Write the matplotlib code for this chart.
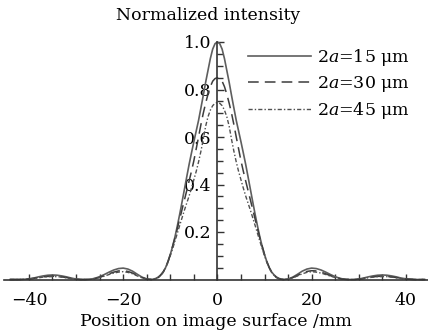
import matplotlib
matplotlib.use("Agg")
import matplotlib.pyplot as plt
import numpy as np

# Positions on image surface (mm): side lobes at 1 mm steps, main lobe at 0.5 mm steps
x_pos = [-44, -43, -42, -41, -40, -39, -38, -37, -36, -35, -34, -33, -32, -31, -30,
         -29, -28, -27, -26, -25, -24, -23, -22, -21, -20, -19, -18, -17, -16, -15,
         -14, -13.5, -13, -12.5, -12, -11.5, -11, -10.5, -10, -9.5, -9, -8.5, -8, -7.5,
         -7, -6.5, -6, -5.5, -5, -4.5, -4, -3.5, -3, -2.5, -2, -1.5, -1, -0.5, 0,
         0.5, 1, 1.5, 2, 2.5, 3, 3.5, 4, 4.5, 5, 5.5, 6, 6.5, 7,
         7.5, 8, 8.5, 9, 9.5, 10, 10.5, 11, 11.5, 12, 12.5, 13, 13.5, 14,
         15, 16, 17, 18, 19, 20, 21, 22, 23, 24, 25, 26, 27, 28, 29,
         30, 31, 32, 33, 34, 35, 36, 37, 38, 39, 40, 41, 42, 43, 44]

# 2a = 15 um (solid)
i_15 = [0.0, 0.0, 0.0, 0.001, 0.003, 0.006, 0.011, 0.015, 0.018, 0.019, 0.018, 0.015,
        0.011, 0.006, 0.002, 0.0, 0.0, 0.001, 0.005, 0.012, 0.021, 0.031, 0.040, 0.046,
        0.048, 0.044, 0.035, 0.022, 0.010, 0.002,
        0.0, 0.002, 0.005, 0.011, 0.020, 0.032, 0.050, 0.075, 0.105, 0.140, 0.180,
        0.226, 0.275, 0.327, 0.380, 0.433, 0.485, 0.533, 0.580, 0.625, 0.670, 0.722,
        0.775, 0.830, 0.880, 0.930, 0.970, 0.993, 1.0,
        0.993, 0.970, 0.930, 0.880, 0.830, 0.775, 0.722, 0.670, 0.625, 0.580, 0.533,
        0.485, 0.433, 0.380, 0.327, 0.275, 0.226, 0.180, 0.140, 0.105, 0.075, 0.050,
        0.032, 0.020, 0.011, 0.005, 0.002, 0.0,
        0.002, 0.010, 0.022, 0.035, 0.044, 0.048, 0.046, 0.040, 0.031, 0.021, 0.012,
        0.005, 0.001, 0.0, 0.0,
        0.002, 0.006, 0.011, 0.015, 0.018, 0.019, 0.018, 0.015, 0.011, 0.006, 0.003,
        0.001, 0.0, 0.0, 0.0]

# 2a = 30 um (dashed)
i_30 = [0.0, 0.0, 0.0, 0.001, 0.002, 0.005, 0.008, 0.011, 0.013, 0.014, 0.013, 0.011,
        0.008, 0.004, 0.001, 0.0, 0.0, 0.001, 0.004, 0.009, 0.016, 0.024, 0.031, 0.036,
        0.037, 0.034, 0.027, 0.017, 0.008, 0.002,
        0.0, 0.001, 0.004, 0.009, 0.019, 0.032, 0.050, 0.075, 0.105, 0.140, 0.175,
        0.215, 0.255, 0.295, 0.335, 0.375, 0.415, 0.456, 0.500, 0.550, 0.600, 0.652,
        0.700, 0.742, 0.780, 0.812, 0.835, 0.846, 0.850,
        0.846, 0.835, 0.812, 0.780, 0.742, 0.700, 0.652, 0.600, 0.550, 0.500, 0.456,
        0.415, 0.375, 0.335, 0.295, 0.255, 0.215, 0.175, 0.140, 0.105, 0.075, 0.050,
        0.032, 0.019, 0.009, 0.004, 0.001, 0.0,
        0.002, 0.008, 0.017, 0.027, 0.034, 0.037, 0.036, 0.031, 0.024, 0.016, 0.009,
        0.004, 0.001, 0.0, 0.0,
        0.001, 0.004, 0.008, 0.011, 0.013, 0.014, 0.013, 0.011, 0.008, 0.005, 0.002,
        0.001, 0.0, 0.0, 0.0]

# 2a = 45 um (dash-dot)
i_45 = [0.0, 0.0, 0.0, 0.001, 0.002, 0.004, 0.007, 0.010, 0.012, 0.012, 0.012, 0.010,
        0.007, 0.004, 0.001, 0.0, 0.0, 0.001, 0.004, 0.008, 0.014, 0.021, 0.027, 0.031,
        0.033, 0.030, 0.024, 0.015, 0.007, 0.002,
        0.0, 0.001, 0.004, 0.009, 0.018, 0.030, 0.048, 0.072, 0.100, 0.130, 0.162,
        0.195, 0.228, 0.260, 0.292, 0.322, 0.352, 0.385, 0.420, 0.455, 0.495, 0.540,
        0.590, 0.645, 0.685, 0.713, 0.732, 0.742, 0.745,
        0.742, 0.732, 0.713, 0.685, 0.645, 0.590, 0.540, 0.495, 0.455, 0.420, 0.385,
        0.352, 0.322, 0.292, 0.260, 0.228, 0.195, 0.162, 0.130, 0.100, 0.072, 0.048,
        0.030, 0.018, 0.009, 0.004, 0.001, 0.0,
        0.002, 0.007, 0.015, 0.024, 0.030, 0.033, 0.031, 0.027, 0.021, 0.014, 0.008,
        0.004, 0.001, 0.0, 0.0,
        0.001, 0.004, 0.007, 0.010, 0.012, 0.012, 0.012, 0.010, 0.007, 0.004, 0.002,
        0.001, 0.0, 0.0, 0.0]

labels = [r"2$a$=15 μm", r"2$a$=30 μm", r"2$a$=45 μm"]
x_ticks = [-40, -20, 0, 20, 40]
y_ticks = [0.2, 0.4, 0.6, 0.8, 1.0]

plt.rcParams['font.family'] = ['DejaVu Serif']
plt.rcParams['mathtext.fontset'] = 'dejavuserif'
plt.rcParams['font.size'] = 12.5

W, H = 428, 334
fig = plt.figure(figsize=(W / 100, H / 100), dpi=100)
ax = fig.add_axes([3.5 / W, 54.5 / H, (W - 3.5) / W, 237.5 / H])

ax.plot(x_pos, i_15, color='#5e5e5e', lw=1.2, ls='-', label=labels[0], clip_on=False)
ax.plot(x_pos, i_30, color='#3c3c3c', lw=1.1, ls=(0, (7, 4)), label=labels[1], clip_on=False)
ax.plot(x_pos, i_45, color='#505050', lw=1.0, ls=(0, (3, 1.5, 1, 1.5)), label=labels[2], clip_on=False)

ax.set_xlim(-45.4, 44.7)
ax.set_ylim(0, 1.0)

ax.spines['left'].set_position(('data', 0))
ax.spines['right'].set_visible(False)
ax.spines['top'].set_visible(False)
for s in ('left', 'bottom'):
    ax.spines[s].set_color('#333333')
    ax.spines[s].set_linewidth(1.2)

ax.set_xticks(x_ticks)
ax.set_xticklabels([("−%d" % -v) if v < 0 else str(v) for v in x_ticks])
ax.set_xticks(np.arange(-40, 45, 5), minor=True)
ax.set_yticks(y_ticks)
ax.set_yticklabels(["%.1f" % v for v in y_ticks])
ax.set_yticks(np.arange(0.05, 1.0, 0.05), minor=True)

ax.tick_params(axis='x', which='both', direction='in', length=4, width=1, color='#333333', pad=9)
ax.tick_params(axis='y', which='both', direction='in', length=4, width=1, color='#333333', pad=4)
ax.tick_params(axis='y', which='major', length=5)

ax.set_xlabel("Position on image surface /mm", labelpad=3)
fig.text(208 / W, 1 - 15 / H, "Normalized intensity", ha='center', va='center', fontsize=12.5)

ax.legend(loc='upper left', bbox_to_anchor=(248 / W, 1 - 47 / H), bbox_transform=fig.transFigure,
          frameon=False, handlelength=3.6, handletextpad=0.35, labelspacing=0.35,
          borderaxespad=0, borderpad=0)

fig.savefig("out.png", dpi=100)
